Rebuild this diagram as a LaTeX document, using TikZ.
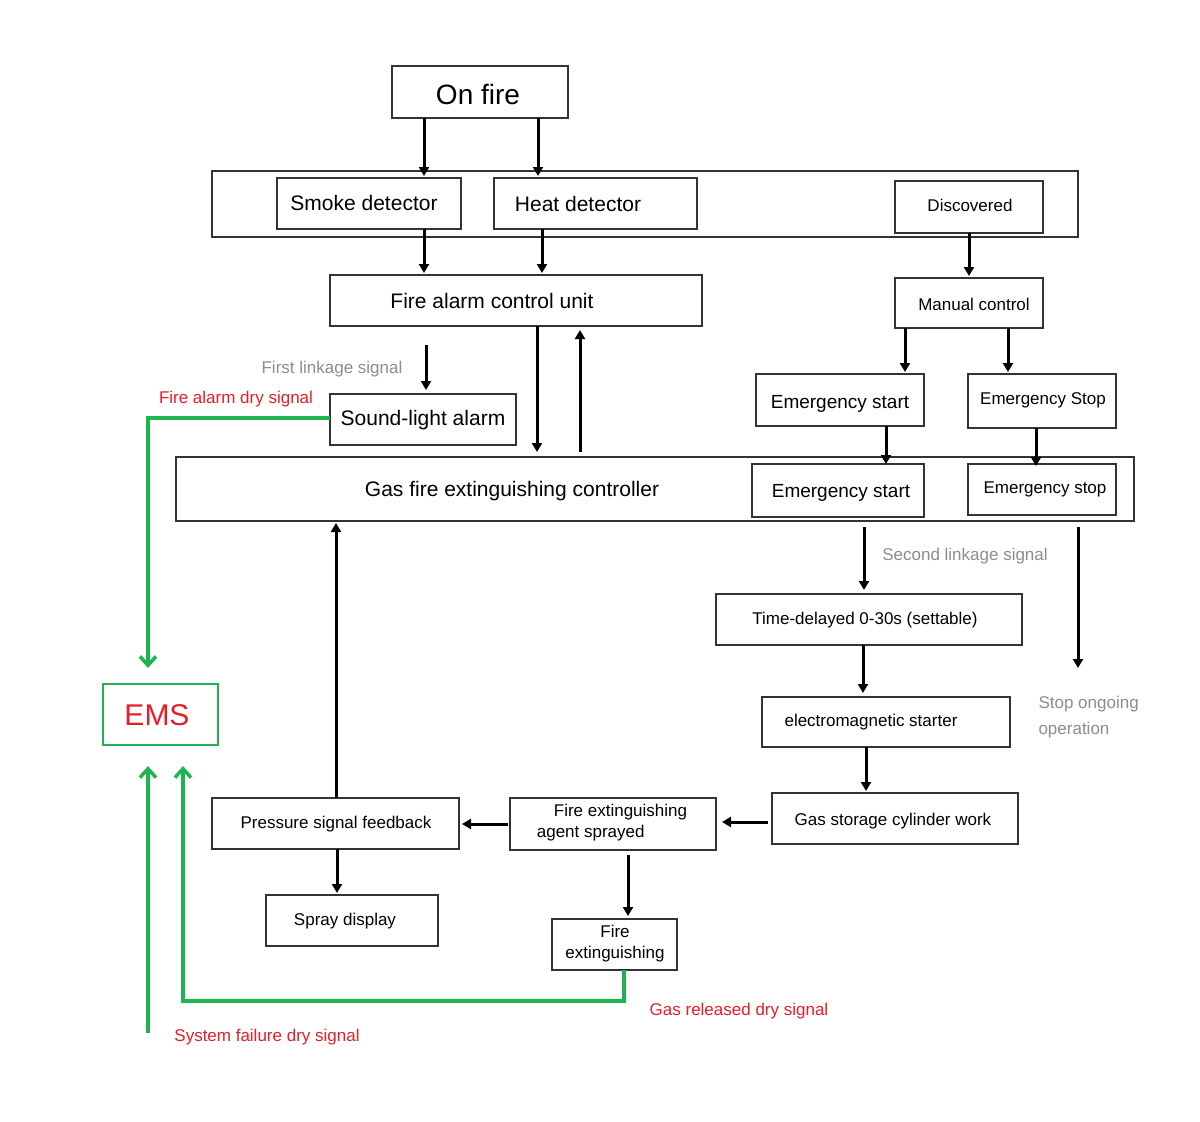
\documentclass[tikz,border=0pt]{standalone}
\usepackage{fontspec}
\setmainfont{Liberation Sans}
\usetikzlibrary{arrows.meta}
\begin{document}
\begin{tikzpicture}[x=1pt,y=-1pt,
  bx/.style={draw=black!80,line width=1.3pt},
  ar/.style={line width=3pt,-{Triangle[length=9pt,width=10pt]}},
  gr/.style={draw={rgb,255:red,30;green,180;blue,80},line width=3.5pt,-{Straight Barb[length=9pt,width=16pt]}},
  gl/.style={text=black!45,font=\fontsize{17}{20}\selectfont},
  rl/.style={text={rgb,255:red,230;green,30;blue,40},font=\fontsize{17}{20}\selectfont},
  t/.style={font=\fontsize{#1}{#1}\selectfont}]
\useasboundingbox (0,0) rectangle (1200,1122);
\definecolor{gg}{RGB}{30,180,80}
% boxes
\draw[bx] (392,66) rectangle (568,118); \node[t=28] (onfire) at (478,94) {On fire};
\draw[bx] (212,171) rectangle (1078,237);
\draw[bx] (277,178) rectangle (461,229); \node[t=21] (smoke) at (364,203) {Smoke detector};
\draw[bx] (494,178) rectangle (697,229); \node[t=21] (heat) at (578,204) {Heat detector};
\draw[bx] (895,181) rectangle (1043,233); \node[t=17] (disc) at (970,205) {Discovered};
\draw[bx] (330,275) rectangle (702,326); \node[t=21] (facu) at (492,301) {Fire alarm control unit};
\draw[bx] (895,278) rectangle (1043,328); \node[t=17] (manual) at (974,304) {Manual control};
\draw[bx] (330,394) rectangle (516,445); \node[t=21] (sla) at (423,420) {Sound-light alarm};
\draw[bx] (756,374) rectangle (924,426); \node[t=19] (es1) at (840,404) {Emergency start};
\draw[bx] (968,374) rectangle (1116,428); \node[t=17] (est1) at (1043,400) {Emergency Stop};
\draw[bx] (176,457) rectangle (1134,521); \node[t=21] (gfc) at (512,491) {Gas fire extinguishing controller};
\draw[bx] (752,464) rectangle (924,517); \node[t=19] (es2) at (841,493) {Emergency start};
\draw[bx] (968,464) rectangle (1116,515); \node[t=17] (est2) at (1045,489) {Emergency stop};
\draw[bx] (716,594) rectangle (1022,645); \node[t=17] (td) at (865,620) {Time-delayed 0-30s (settable)};
\draw[bx] (762,697) rectangle (1010,747); \node[t=17] (em) at (871,722) {electromagnetic starter};
\draw[bx] (772,793) rectangle (1018,844); \node[t=17] (gas) at (893,821) {Gas storage cylinder work};
\draw[bx] (510,798) rectangle (716,850); \node[t=17,align=left] (spr) at (612,823) {\hspace*{1em}Fire extinguishing\\[4pt]agent sprayed};
\draw[bx] (212,798) rectangle (459,849); \node[t=17] (psf) at (336,824) {Pressure signal feedback};
\draw[bx] (266,895) rectangle (438,946); \node[t=17] (sd) at (345,921) {Spray display};
\draw[bx] (552,919) rectangle (677,970); \node[t=17,align=center] (fe) at (615,944) {Fire\\[4pt]extinguishing};
\draw[gg,line width=1.3pt] (103,684) rectangle (218,745); \node[t=30,text={rgb,255:red,230;green,30;blue,40}] (ems) at (157,715) {EMS};
% black arrows
\draw[ar] (424,118) -- (424,176); \draw[ar] (538,118) -- (538,176);
\draw[ar] (424,229) -- (424,273); \draw[ar] (542,229) -- (542,273);
\draw[ar] (969,233) -- (969,276);
\draw[ar] (426,345) -- (426,390);
\draw[ar] (537,326) -- (537,452); \draw[ar] (580,452) -- (580,330);
\draw[ar] (905,328) -- (905,372); \draw[ar] (1008,328) -- (1008,372);
\draw[ar] (886,426) -- (886,464); \draw[ar] (1036,428) -- (1036,466);
\draw[ar] (864,527) -- (864,590); \draw[ar] (1078,527) -- (1078,668);
\draw[ar] (863,645) -- (863,693); \draw[ar] (866,747) -- (866,791);
\draw[ar] (768,822) -- (722,822); \draw[ar] (508,824) -- (462,824);
\draw[ar] (336,798) -- (336,523); \draw[ar] (337,849) -- (337,893);
\draw[ar] (628,855) -- (628,916);
% labels
\node[gl] (l1) at (332,369) {First linkage signal};
\node[gl] (l2) at (965,556) {Second linkage signal};
\node[gl,align=left,anchor=west] (l3) at (1035,717) {Stop ongoing\\[6pt]operation};
% green
\draw[gr] (330,418) -- (148,418) -- (148,668);
\draw[gr] (148,1033) -- (148,766);
\draw[gr] (624,970) -- (624,1001) -- (183,1001) -- (183,766);
\node[rl] (r1) at (236,399) {Fire alarm dry signal};
\node[rl] (r2) at (267,1037) {System failure dry signal};
\node[rl] (r3) at (739,1011) {Gas released dry signal};
\end{tikzpicture}
\end{document}
